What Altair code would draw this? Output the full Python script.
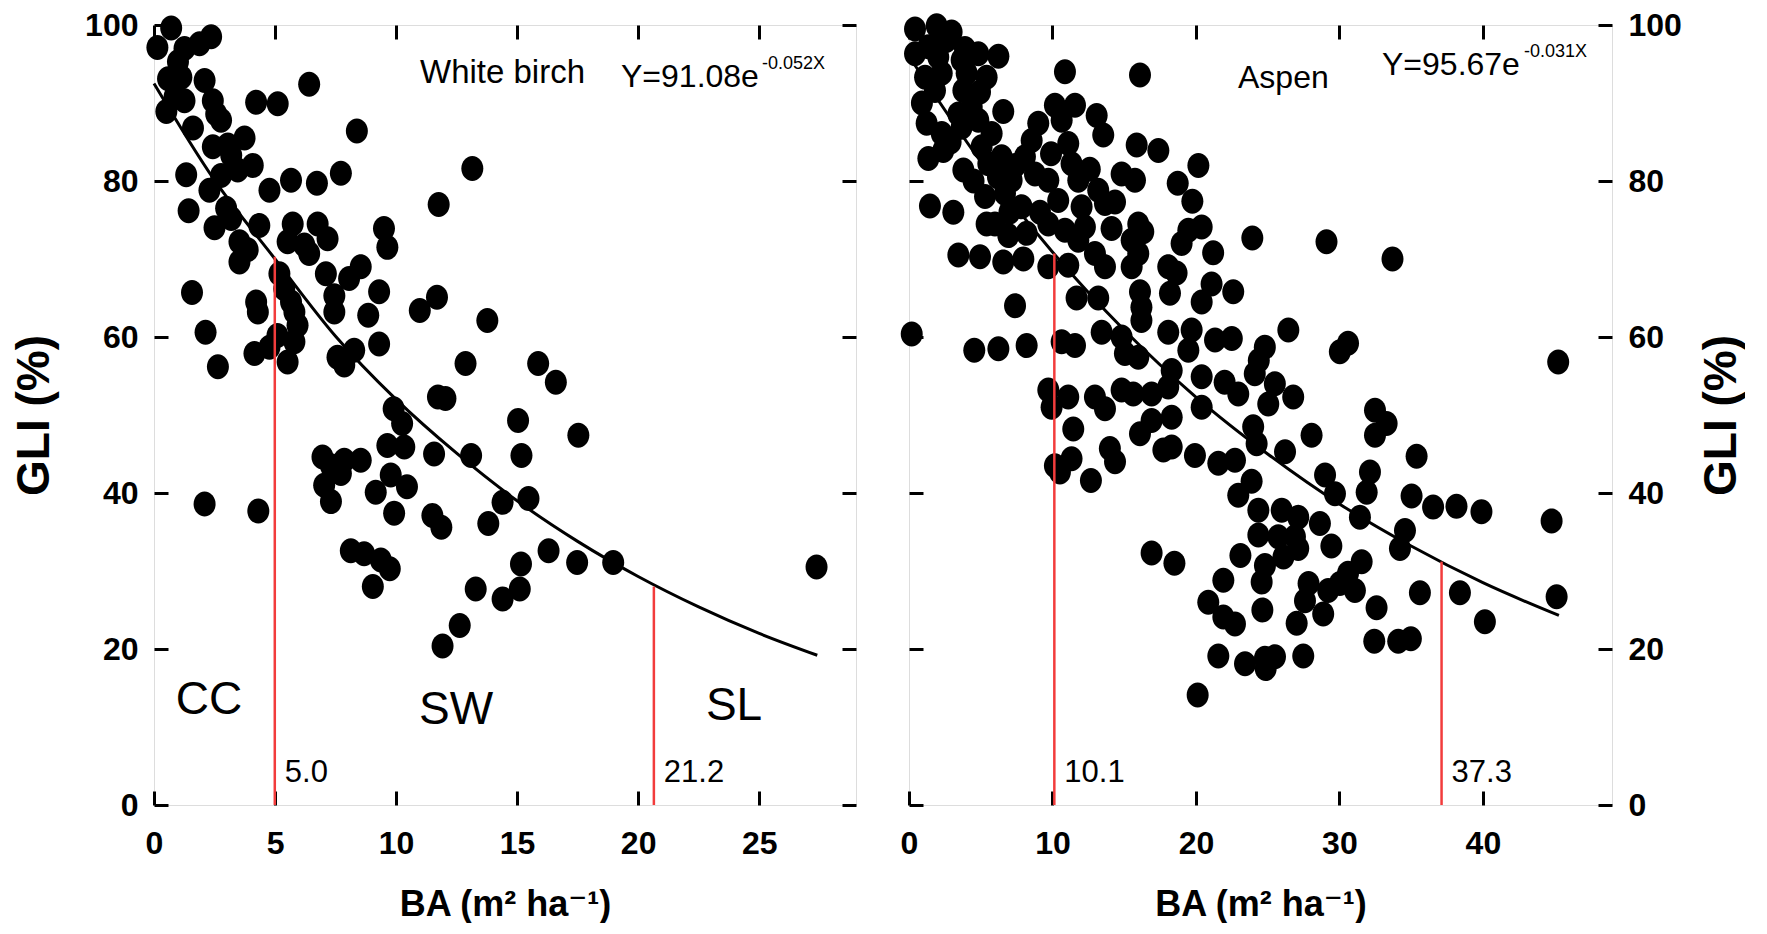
import altair as alt
import pandas as pd

# ---------------- data ----------------
# White birch: BA (m2/ha) and GLI (%)
wb_x = [0.71, 0.14, 1.26, 1.88, 2.36, 0.99, 0.58, 1.13, 2.09, 0.85, 1.26, 2.43, 0.51, 4.22, 5.11, 6.41,
        1.61, 2.57, 2.77, 3.74, 2.43, 3.05, 3.19, 4.08, 1.33, 2.77, 3.46, 2.29, 4.77, 5.66, 6.73, 7.72,
        8.38, 1.43, 2.98, 3.19, 2.5, 4.35, 5.73, 5.52, 6.76, 7.17, 6.21, 6.41, 3.53, 3.87, 3.53, 9.5,
        9.64, 5.18, 7.10, 8.06, 8.54, 9.3, 1.57, 4.22, 4.29, 5.38, 5.66, 7.45, 7.45, 8.85,
        2.13, 2.64, 4.15, 4.77, 5.1, 5.52, 5.8, 5.93, 5.8, 9.3, 7.58, 7.86, 8.27, 9.9, 10.25, 9.64,
        6.96, 7.31, 7.86, 8.54, 7.72, 7.03, 7.31, 9.16, 9.78, 9.92, 2.09, 4.31, 8.13, 8.68, 9.37,
        10.45, 9.04, 9.74, 11.5, 11.87, 11.92, 12.63, 13.29, 13.81, 14.4, 14.4, 15.11, 15.16, 15.47,
        16.3, 17.48, 18.97, 27.37, 13.15, 11.76, 13.77, 11.69, 10.98, 12.87, 15.87, 16.6, 11.73,
        12.04, 15.04, 17.53, 10.34, 11.57, 13.1, 15.18]
wb_y = [99.6, 97.1, 97.0, 97.6, 98.5, 95.3, 93.1, 93.3, 92.9, 90.8, 90.3, 90.3, 88.9, 90.1, 89.9, 92.4,
        86.8, 88.6, 87.8, 85.5, 84.4, 84.6, 83.3, 82.0, 80.8, 80.7, 81.4, 78.8, 78.8, 80.1, 79.7, 81.0,
        86.4, 76.2, 76.5, 75.2, 74.0, 74.3, 74.5, 72.2, 74.5, 72.6, 71.8, 70.7, 72.2, 71.2, 69.6, 73.9,
        71.5, 68.1, 68.1, 67.5, 69.0, 65.8, 65.7, 64.5, 63.2, 66.2, 64.5, 65.3, 63.2, 62.8,
        60.6, 56.2, 57.9, 58.7, 60.2, 56.8, 59.4, 61.5, 63.2, 59.1, 57.4, 56.4, 58.3, 50.8, 48.9, 46.1,
        44.6, 43.5, 44.2, 44.2, 42.5, 41.0, 38.9, 40.1, 42.3, 37.4, 38.6, 37.7, 32.6, 32.2, 31.4,
        40.8, 28.0, 30.3, 37.1, 35.6, 20.4, 23.0, 27.7, 36.1, 38.8, 26.4, 27.7, 30.9, 39.3,
        32.6, 31.1, 31.1, 30.5, 81.6, 77.0, 62.1, 65.1, 63.4, 56.6, 56.6, 54.2, 52.3,
        52.1, 49.3, 47.4, 45.9, 45.0, 44.8, 44.8]

# Aspen: BA (m2/ha) and GLI (%)
as_x = [0.42, 1.93, 2.97, 0.42, 1.35, 2.04, 1.12, 1.81, 2.28, 3.67, 4.83, 6.23, 4.02, 5.41, 3.79, 4.95,
        10.87, 3.44, 4.37, 6.57, 1.23, 2.28, 1.35, 2.39, 3.67, 4.83, 5.76, 5.06, 3.79, 5.53, 6.46, 7.15,
        8.08, 9.01, 8.55, 10.17, 11.57, 10.64, 11.1, 11.33, 11.8, 13.08, 13.54, 9.71, 8.78, 5.3, 6.69,
        7.85, 5.99, 1.46, 3.09, 5.41, 6.92, 8.2, 9.13, 10.4, 12.03, 13.19, 13.66, 14.36, 14.82, 15.75,
        15.87, 16.1, 9.71, 10.87, 11.8, 12.26, 14.12, 3.44, 4.95, 6.57, 7.97, 9.71, 11.1, 12.96, 13.66,
        15.52, 11.68, 13.19, 16.1, 7.39, 15.52, 15.98,
        9.9, 7.4, 2.9, 4.5, 6.2, 7.0, 12.6, 0.9, 2.6, 3.9,
        17.38, 20.17, 18.73, 19.75, 16.33, 20.4, 19.47, 19.0, 21.2, 23.93, 29.1, 15.98, 18.07, 18.65,
        18.19, 21.09, 22.6, 20.4, 33.7,
        0.19, 4.55, 6.23, 8.2, 10.64, 11.57, 13.43, 14.82, 15.05, 15.98, 9.71, 9.94, 11.1, 12.96, 13.66,
        14.82, 15.63, 16.1, 11.45, 10.17, 10.52, 11.33, 12.68, 14.0, 14.36,
        16.2, 16.2, 18.07, 19.7, 21.33, 22.5, 26.44, 30.03, 30.6, 18.31, 19.47, 20.4, 22.0, 22.95, 24.38,
        24.8, 24.1, 25.5, 26.78, 25.04, 16.91, 18.07, 20.4, 16.91, 18.31, 17.73, 18.31, 19.93, 21.56,
        22.72, 23.99, 24.23, 26.21, 28.06, 29.0, 29.69, 23.88, 22.95, 24.35, 25.98, 27.13, 24.35, 25.74,
        26.9, 28.64, 29.44, 16.91, 18.5, 23.1,
        21.91, 24.58, 24.81, 26.1, 27.13, 27.85, 27.6, 28.87, 30.03, 30.6, 29.22, 20.86, 21.91, 22.72,
        24.63, 27.02, 21.56, 23.42, 24.81, 25.51, 24.86, 27.48, 20.12,
        45.25, 32.48, 33.29, 32.48, 35.38, 32.13, 31.9, 31.43, 35.03, 36.53, 38.16, 39.9, 44.79, 34.57,
        34.22, 31.55, 31.08, 35.61, 38.40, 45.14, 32.59, 40.14, 32.43, 34.1, 34.98]
as_y = [99.5, 99.9, 99.1, 96.3, 97.2, 95.9, 93.3, 91.6, 93.8, 95.5, 96.3, 96.0, 93.8, 93.3, 91.6, 91.4,
        94.0, 88.6, 89.5, 88.9, 87.4, 86.1, 82.9, 83.9, 86.9, 87.8, 86.1, 84.4, 81.4, 82.2, 83.1, 80.1,
        83.1, 87.4, 85.2, 89.7, 89.7, 87.8, 84.8, 82.2, 80.1, 88.4, 85.9, 80.1, 80.9, 78.0, 78.4,
        76.7, 74.5, 76.8, 76.0, 74.5, 73.0, 73.3, 76.0, 77.5, 76.7, 78.8, 77.1, 77.3, 80.9, 80.1,
        84.6, 93.6, 74.5, 73.7, 72.4, 74.1, 73.9, 70.5, 70.3, 69.6, 70.0, 69.0, 69.2, 70.7, 69.0,
        69.0, 65.0, 65.0, 65.8, 64.0, 72.4, 74.5,
        83.5, 82.0, 85.0, 80.0, 80.5, 76.0, 81.5, 90.0, 98.0, 97.0,
        83.9, 82.0, 79.7, 77.4, 73.5, 74.1, 73.7, 72.0, 70.8, 72.7, 72.2, 70.7, 69.0, 68.2,
        65.6, 66.8, 65.8, 64.5, 70.0,
        60.4, 58.3, 58.5, 58.9, 59.4, 58.9, 60.6, 60.0, 57.9, 57.4, 53.2, 51.0, 52.3, 52.3, 50.8,
        53.2, 52.7, 47.6, 48.2, 43.5, 42.7, 44.4, 41.6, 45.7, 44.0,
        63.8, 62.1, 60.6, 60.9, 59.6, 59.8, 60.9, 58.1, 59.2, 55.7, 58.3, 54.9, 54.2, 52.7, 57.0,
        58.7, 55.3, 54.0, 52.3, 51.4, 52.7, 53.6, 51.0, 49.3, 49.7, 45.5, 45.9, 44.8, 43.8,
        44.2, 48.5, 46.3, 45.3, 47.4, 42.3, 39.9, 41.5, 39.7, 37.8, 37.8, 36.9, 34.6, 34.4,
        34.4, 36.1, 33.2, 32.3, 31.0, 32.0,
        28.8, 28.6, 30.7, 31.8, 32.9, 28.4, 26.2, 24.5, 28.4, 29.7, 27.5, 26.0, 24.1, 23.2,
        25.0, 23.3, 19.1, 18.1, 18.8, 19.0, 17.5, 19.1, 14.1,
        56.8, 50.6, 48.9, 47.4, 44.7, 42.7, 40.1, 36.9, 39.6, 38.2, 38.3, 37.6, 36.4, 35.2,
        32.9, 31.2, 27.5, 27.2, 27.2, 26.7, 25.3, 23.5, 21.0, 21.0, 21.3]

# fitted curves
wb_fit_x = [0, 2.5, 5, 7.5, 10, 12.5, 15, 17.5, 20, 22.5, 25, 27.4]
wb_fit_y = [92.5, 80.1, 70.0, 60.1, 52.0, 45.1, 39.0, 33.8, 29.3, 25.4, 22.0, 19.2]
as_fit_x = [0, 5, 10, 15, 20, 25, 30, 35, 40, 45.3]
as_fit_y = [96.0, 82.5, 70.9, 60.9, 52.3, 45.0, 38.6, 33.2, 28.5, 24.3]

# red threshold lines
wb_cut_x = [4.99, 20.65]
wb_cut_top = [70.3, 28.0]
wb_cut_label = ["5.0", "21.2"]
as_cut_x = [10.13, 37.12]
as_cut_top = [70.7, 31.2]
as_cut_label = ["10.1", "37.3"]

wb_x_ticks = [0, 5, 10, 15, 20, 25]
as_x_ticks = [0, 10, 20, 30, 40]
y_ticks = [0, 20, 40, 60, 80, 100]

zone_labels = ["CC", "SW", "SL"]
species = ["White birch", "Aspen"]
eq_main = ["Y=91.08e", "Y=95.67e"]
eq_sup = ["-0.052X", "-0.031X"]
x_title = "BA (m² ha⁻¹)"
y_title = "GLI (%)"

# ---------------- styling ----------------
FONT = "Liberation Sans, Arial, Helvetica, DejaVu Sans, sans-serif"
RED = "#f23c3c"
ELLIPSE = "M-0.88,0A0.88,1,0,1,1,0.88,0A0.88,1,0,1,1,-0.88,0Z"
W_L, W_R, H = 702, 703, 780


def axis(orient, values, labels, title=None, **kw):
    args = dict(orient=orient, values=values, labels=labels, domain=False, grid=False,
                ticks=True, tickSize=14, tickWidth=3, tickColor="black", offset=-14,
                labelFont=FONT, labelFontSize=32, labelFontWeight="bold", labelColor="black",
                labelFlush=False, labelOverlap=False)
    if title is not None:
        args.update(title=title, titleFont=FONT, titleFontWeight="bold", titleColor="black")
    else:
        args.update(title=None)
    args.update(kw)
    return alt.Axis(**args)


def txt(s, x, y, size, align="left", weight="normal"):
    return alt.Chart(pd.DataFrame({"t": [s]})).mark_text(
        align=align, baseline="alphabetic", font=FONT, fontSize=size, fontWeight=weight,
        color="black").encode(x=alt.value(x), y=alt.value(y), text="t:N")


ys = alt.Scale(domain=[0, 100], nice=False, zero=False)

# ---------------- White birch panel ----------------
xs_wb = alt.Scale(domain=[0, 29], nice=False, zero=False)
wb_pts = pd.DataFrame({"x": wb_x, "y": wb_y})
wb_fit = pd.DataFrame({"x": wb_fit_x, "y": wb_fit_y})
wb_cut = pd.DataFrame({"x": wb_cut_x, "top": wb_cut_top, "label": wb_cut_label})

wb_curve = alt.Chart(wb_fit).mark_line(color="black", strokeWidth=3, interpolate="monotone").encode(
    x=alt.X("x:Q", scale=xs_wb, axis=axis("top", wb_x_ticks, False)),
    y=alt.Y("y:Q", scale=ys, axis=axis("right", y_ticks, False)))
wb_points = alt.Chart(wb_pts).mark_point(shape=ELLIPSE, filled=True, color="black", size=625,
                                         opacity=1, strokeWidth=0).encode(
    x=alt.X("x:Q", scale=xs_wb, axis=axis("bottom", wb_x_ticks, True, x_title, labelPadding=23,
                                          titlePadding=28, titleFontSize=36)),
    y=alt.Y("y:Q", scale=ys, axis=axis("left", y_ticks, True, y_title, labelPadding=16,
                                       titlePadding=26, titleFontSize=46)))
wb_rules = alt.Chart(wb_cut).mark_rule(color=RED, strokeWidth=2.5).encode(
    x=alt.X("x:Q", scale=xs_wb, axis=None),
    y=alt.Y("top:Q", scale=ys, axis=None), y2=alt.Y2Datum(0))
wb_cut_txt = alt.Chart(wb_cut).mark_text(align="left", baseline="alphabetic", dx=10, font=FONT,
                                         fontSize=31, color="black").encode(
    x=alt.X("x:Q", scale=xs_wb, axis=None), y=alt.value(757), text="label:N")

left = alt.layer(
    wb_curve, wb_points, wb_rules, wb_cut_txt,
    txt(species[0], 266, 58, 33),
    txt(eq_main[0], 467, 62, 32),
    txt(eq_sup[0], 608, 44, 18),
    txt(zone_labels[0], 55, 689, 46, align="center"),
    txt(zone_labels[1], 302, 699, 46, align="center"),
    txt(zone_labels[2], 580, 695, 46, align="center"),
).resolve_axis(x="independent", y="independent").properties(width=W_L, height=H)

# ---------------- Aspen panel ----------------
xs_as = alt.Scale(domain=[0, 49], nice=False, zero=False)
as_pts = pd.DataFrame({"x": as_x, "y": as_y})
as_fit = pd.DataFrame({"x": as_fit_x, "y": as_fit_y})
as_cut = pd.DataFrame({"x": as_cut_x, "top": as_cut_top, "label": as_cut_label})

as_curve = alt.Chart(as_fit).mark_line(color="black", strokeWidth=3, interpolate="monotone").encode(
    x=alt.X("x:Q", scale=xs_as, axis=axis("top", as_x_ticks, False)),
    y=alt.Y("y:Q", scale=ys, axis=axis("left", y_ticks, False)))
as_points = alt.Chart(as_pts).mark_point(shape=ELLIPSE, filled=True, color="black", size=625,
                                         opacity=1, strokeWidth=0).encode(
    x=alt.X("x:Q", scale=xs_as, axis=axis("bottom", as_x_ticks, True, x_title, labelPadding=23,
                                          titlePadding=28, titleFontSize=36)),
    y=alt.Y("y:Q", scale=ys, axis=axis("right", y_ticks, True, y_title, labelPadding=16,
                                       titlePadding=18, titleFontSize=46, titleAngle=270,
                                       titleBaseline="top")))
as_rules = alt.Chart(as_cut).mark_rule(color=RED, strokeWidth=2.5).encode(
    x=alt.X("x:Q", scale=xs_as, axis=None),
    y=alt.Y("top:Q", scale=ys, axis=None), y2=alt.Y2Datum(0))
as_cut_txt = alt.Chart(as_cut).mark_text(align="left", baseline="alphabetic", dx=10, font=FONT,
                                         fontSize=31, color="black").encode(
    x=alt.X("x:Q", scale=xs_as, axis=None), y=alt.value(757), text="label:N")

right = alt.layer(
    as_curve, as_points, as_rules, as_cut_txt,
    txt(species[1], 329, 63, 32),
    txt(eq_main[1], 473, 50, 32),
    txt(eq_sup[1], 615, 32, 18),
).resolve_axis(x="independent", y="independent").properties(width=W_R, height=H)

chart = alt.hconcat(left, right, spacing=41).configure_view(
    stroke="black", strokeWidth=3
).configure(font=FONT, background="white",
            padding={"left": 3, "top": 0, "right": 0, "bottom": 0})

chart.save("out.html", embed_options={"renderer": "svg", "actions": False})
